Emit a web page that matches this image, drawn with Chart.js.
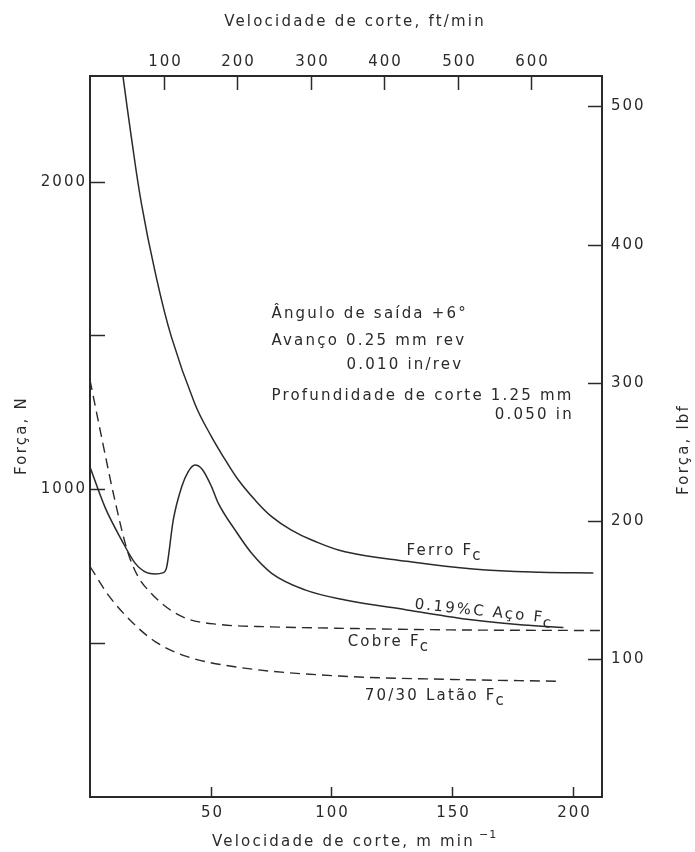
<!DOCTYPE html>
<html>
<head>
<meta charset="utf-8">
<script src="https://cdn.jsdelivr.net/npm/chart.js@4.4.1/dist/chart.umd.min.js"></script>
<style>
  html, body { margin: 0; padding: 0; background: #fff; }
  #wrap { width: 695px; height: 852px; position: relative; }
</style>
</head>
<body>
<div id="wrap"><canvas id="forceChart"></canvas></div>
<script>
// velocidade de corte (m/min) e força de corte Fc (N)
const ferroV = [13.7, 17.1, 21.3, 26.8, 33.7, 43.4, 50.4, 55.95, 61.5, 68.4, 75.3, 83.3, 91.9, 105.7, 131.2, 158.8, 186.5, 208.6];
const ferroF = [2340, 2146, 1929, 1713, 1496, 1279, 1170, 1097, 1030, 965, 911, 868, 835, 797, 766, 741, 730, 728];

const acoV = [0, 6.2, 13.1, 18.7, 23.5, 26.9, 30.4, 31.8, 34.5, 38.0, 40.6, 43.5, 46.4, 50.4, 53.2, 60.1, 67.0, 75.3, 89.1, 105.7, 131.3, 158.9, 179.6, 196.2];
const acoF = [1072, 942, 835, 760, 729, 725, 729, 748, 900, 1008, 1056, 1079, 1066, 1008, 954, 868, 792, 727, 673, 640, 608, 575, 559, 551];

const cobreV = [0, 5.3, 10, 15.5, 20, 25, 32, 40, 53, 75, 106, 150, 212.2];
const cobreF = [1355, 1150, 975, 800, 715, 665, 615, 580, 561, 553, 548, 543, 541];

const pataoV = [0, 8, 17.6, 27, 40, 62, 103.5, 150, 195.5];
const pataoF = [749, 652, 567, 505, 457, 421, 393, 382, 376];

// eixos
const velMax = 212.2;          // m/min
const forcaMaxN = 2343;        // N
const forcaMaxLbf = 522;       // lbf
const ftPorM = 0.3048;
const ticksMmin = [50, 100, 150, 200];
const ticksFtMin = [100, 200, 300, 400, 500, 600];
const ticksN = [500, 1000, 1500, 2000];
const labelledN = [1000, 2000];
const ticksLbf = [100, 200, 300, 400, 500];

// textos
const notas = [
  { t: 'Ângulo de saída +6°', v: 75.2, f: 1568 },
  { t: 'Avanço 0.25 mm rev', v: 75.2, f: 1481 },
  { t: '0.010 in/rev', v: 106.3, f: 1402 },
  { t: 'Profundidade de corte 1.25 mm', v: 75.2, f: 1302 },
  { t: '0.050 in', v: 167.8, f: 1240 }
];
const rotulos = [
  { t: 'Ferro F', v: 131.2, f: 800, rot: 0 },
  { t: '0.19%C Aço F', v: 134.6, f: 625, rot: 6 },
  { t: 'Cobre F', v: 106.8, f: 502, rot: 0 },
  { t: '70/30 Latão F', v: 113.9, f: 327, rot: 0 }
];

const INK = '#2a2a2a';
const FONT = '15px "DejaVu Sans"';

function pts(xs, ys) {
  return xs.map((x, i) => ({ x: x, y: ys[i] }));
}

function fixTicks(list) {
  return scale => { scale.ticks = list.map(v => ({ value: v })); };
}

const desenho = {
  id: 'desenho',
  afterDraw(chart) {
    const ctx = chart.ctx;
    const a = chart.chartArea;
    const sx = chart.scales.x, sx2 = chart.scales.x2, sy = chart.scales.y, sy2 = chart.scales.y2;
    ctx.save();
    ctx.strokeStyle = INK;
    ctx.fillStyle = INK;
    ctx.lineWidth = 1.5;
    ctx.font = FONT;
    ctx.letterSpacing = '2px';

    // marcas para dentro + rótulos
    ticksN.forEach(v => {
      const p = Math.round(sy.getPixelForValue(v)) + 0.5;
      ctx.beginPath(); ctx.moveTo(a.left, p); ctx.lineTo(a.left + 15, p); ctx.stroke();
      if (labelledN.includes(v)) {
        ctx.textAlign = 'right'; ctx.textBaseline = 'middle';
        ctx.fillText(String(v), a.left - 3, p);
      }
    });
    ticksLbf.forEach(v => {
      const p = Math.round(sy2.getPixelForValue(v)) + 0.5;
      ctx.beginPath(); ctx.moveTo(a.right, p); ctx.lineTo(a.right - 14, p); ctx.stroke();
      ctx.textAlign = 'left'; ctx.textBaseline = 'middle';
      ctx.fillText(String(v), a.right + 9, p);
    });
    ticksMmin.forEach(v => {
      const p = Math.round(sx.getPixelForValue(v)) + 0.5;
      ctx.beginPath(); ctx.moveTo(p, a.bottom); ctx.lineTo(p, a.bottom - 10); ctx.stroke();
      ctx.textAlign = 'center'; ctx.textBaseline = 'middle';
      ctx.fillText(String(v), p + 1, a.bottom + 16);
    });
    ticksFtMin.forEach(v => {
      const p = Math.round(sx2.getPixelForValue(v)) + 0.5;
      ctx.beginPath(); ctx.moveTo(p, a.top); ctx.lineTo(p, a.top + 14); ctx.stroke();
      ctx.textAlign = 'center'; ctx.textBaseline = 'middle';
      ctx.fillText(String(v), p + 1, a.top - 14);
    });

    // títulos dos eixos
    ctx.letterSpacing = '2.2px';
    ctx.textAlign = 'center'; ctx.textBaseline = 'middle';
    ctx.fillText('Velocidade de corte, ft/min', (a.left + a.right) / 2 + 9, 22);

    ctx.textAlign = 'left';
    const bt = 'Velocidade de corte, m min';
    ctx.fillText(bt, a.left + 122, a.bottom + 45);
    const bw = ctx.measureText(bt).width;
    ctx.font = '11px "DejaVu Sans"';
    ctx.letterSpacing = '1px';
    ctx.fillText('\u22121', a.left + 122 + bw + 4, a.bottom + 38);
    ctx.font = FONT;
    ctx.letterSpacing = '2.2px';

    ctx.save();
    ctx.translate(22, (a.top + a.bottom) / 2 - 1);
    ctx.rotate(-Math.PI / 2);
    ctx.textAlign = 'center';
    ctx.fillText('Força, N', 0, 0);
    ctx.restore();

    ctx.save();
    ctx.translate(684, (a.top + a.bottom) / 2 + 13);
    ctx.rotate(-Math.PI / 2);
    ctx.textAlign = 'center';
    ctx.fillText('Força, lbf', 0, 0);
    ctx.restore();

    // notas de condição de corte
    ctx.textAlign = 'left'; ctx.textBaseline = 'middle';
    notas.forEach(n => {
      ctx.fillText(n.t, sx.getPixelForValue(n.v), sy.getPixelForValue(n.f));
    });

    // rótulos das curvas, com índice c
    rotulos.forEach(r => {
      ctx.save();
      ctx.translate(sx.getPixelForValue(r.v), sy.getPixelForValue(r.f));
      ctx.rotate(r.rot * Math.PI / 180);
      ctx.textAlign = 'left'; ctx.textBaseline = 'middle';
      ctx.fillText(r.t, 0, 0);
      const w = ctx.measureText(r.t).width;
      ctx.fillText('c', w - 1, 5);
      ctx.restore();
    });

    ctx.restore();
  }
};

const ctx = document.getElementById('forceChart').getContext('2d');

new Chart(ctx, {
  type: 'line',
  data: {
    datasets: [
      { label: 'Ferro Fc', data: pts(ferroV, ferroF), borderColor: INK, borderWidth: 1.5,
        cubicInterpolationMode: 'default', tension: 0.4 },
      { label: '0.19%C Aço Fc', data: pts(acoV, acoF), borderColor: INK, borderWidth: 1.5 },
      { label: 'Cobre Fc', data: pts(cobreV, cobreF), borderColor: INK, borderWidth: 1.4, borderDash: [10, 6] },
      { label: '70/30 Latão Fc', data: pts(pataoV, pataoF), borderColor: INK, borderWidth: 1.4, borderDash: [10, 6] }
    ]
  },
  options: {
    responsive: true,
    maintainAspectRatio: false,
    animation: false,
    layout: { padding: 0 },
    elements: {
      point: { radius: 0, hoverRadius: 0 },
      line: { cubicInterpolationMode: 'monotone', fill: false }
    },
    scales: {
      x: {
        type: 'linear', position: 'bottom', min: 0, max: velMax,
        ticks: { display: false },
        grid: { display: false },
        border: { display: true, color: INK, width: 2 },
        afterBuildTicks: fixTicks(ticksMmin),
        afterFit: s => { s.height = 55; }
      },
      x2: {
        type: 'linear', position: 'top', min: 0, max: velMax / ftPorM,
        ticks: { display: false },
        grid: { display: false },
        border: { display: true, color: INK, width: 2 },
        afterBuildTicks: fixTicks(ticksFtMin),
        afterFit: s => { s.height = 76; }
      },
      y: {
        type: 'linear', position: 'left', min: 0, max: forcaMaxN,
        ticks: { display: false },
        grid: { display: false },
        border: { display: true, color: INK, width: 2 },
        afterBuildTicks: fixTicks(ticksN),
        afterFit: s => { s.width = 90; }
      },
      y2: {
        type: 'linear', position: 'right', min: 0, max: forcaMaxLbf,
        ticks: { display: false },
        grid: { display: false },
        border: { display: true, color: INK, width: 2 },
        afterBuildTicks: fixTicks(ticksLbf),
        afterFit: s => { s.width = 93; }
      }
    },
    plugins: {
      legend: { display: false },
      tooltip: { enabled: false }
    }
  },
  plugins: [desenho]
});
</script>
</body>
</html>
